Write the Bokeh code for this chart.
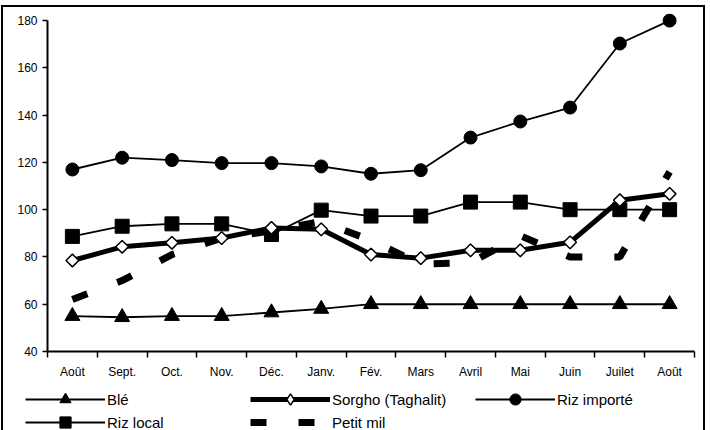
from bokeh.plotting import figure
from bokeh.layouts import column
from bokeh.models import Legend, LegendItem, FixedTicker, Range1d
from bokeh.embed import file_html
from bokeh.resources import INLINE
import math

months = ["Août", "Sept.", "Oct.", "Nov.", "Déc.", "Janv.", "Fév.", "Mars",
          "Avril", "Mai", "Juin", "Juilet", "Août"]
x = list(range(1, len(months) + 1))

ble = [55, 54.5, 55, 55, 56.5, 58, 60, 60, 60, 60, 60, 60, 60]
sorgho = [78.5, 84.3, 86, 88, 92.3, 91.7, 81, 79.5, 82.8, 82.8, 86.2, 104, 106.7]
riz_importe = [117, 122, 121, 119.7, 119.7, 118.3, 115.2, 116.7, 130.5, 137.3, 143.2, 170.3, 180]
riz_local = [88.7, 93, 94, 94, 89.5, 99.8, 97.3, 97.3, 103.2, 103.2, 100, 100, 100]
petit_mil = [62, 70, 81, 88, 91, 95, 87, 77, 77.5, 89, 80, 80, 116]

y_ticks = [40, 60, 80, 100, 120, 140, 160, 180]

FONT = "Liberation Sans"

p = figure(frame_width=647, frame_height=338, x_range=Range1d(0.5, 13.5), y_range=Range1d(40, 183),
           output_backend="svg", toolbar_location=None,
           min_border_left=44, min_border_right=9, min_border_top=6, min_border_bottom=0)
p.frame_align = False
p.xgrid.visible = False
p.ygrid.visible = False
p.outline_line_color = None
p.background_fill_color = "white"
p.border_fill_color = "white"

# x axis
p.xaxis.ticker = FixedTicker(ticks=x, minor_ticks=[i + 0.5 for i in range(0, len(months) + 1)])
p.xaxis.major_label_overrides = {i: m for i, m in zip(x, months)}
p.xaxis.major_tick_out = 0
p.xaxis.major_tick_in = 0
p.xaxis.minor_tick_out = 6
p.xaxis.minor_tick_in = 0
p.xaxis.minor_tick_line_color = "black"
p.xaxis.minor_tick_line_width = 1.5
p.xaxis.major_label_standoff = 7
# y axis
p.yaxis.ticker = FixedTicker(ticks=y_ticks)
p.yaxis.bounds = (40, 180)
p.yaxis.minor_tick_line_color = None
p.yaxis.major_tick_out = 5
p.yaxis.major_tick_in = 0
p.yaxis.major_tick_line_width = 1.5
p.yaxis.major_label_standoff = 5
for ax in (p.xaxis, p.yaxis):
    ax.axis_line_color = "black"
    ax.axis_line_width = 2
    ax.major_tick_line_color = "black"
    ax.major_label_text_font = FONT
    ax.major_label_text_font_size = "12px"
    ax.major_label_text_color = "black"

# series styles
STY = {
    "ble": dict(line=dict(line_color="black", line_width=1.8),
                mark=dict(marker="triangle", size=15, fill_color="black", line_color="black")),
    "riz_i": dict(line=dict(line_color="black", line_width=1.8),
                  mark=dict(marker="circle", size=13, fill_color="black", line_color="black")),
    "riz_l": dict(line=dict(line_color="black", line_width=1.8),
                  mark=dict(marker="square", size=14, fill_color="black", line_color="black")),
    "mil": dict(line=dict(line_color="black", line_width=7, line_dash="16 32", line_cap="butt")),
    "sorgho": dict(line=dict(line_color="black", line_width=5),
                   mark=dict(marker="square", angle=math.pi / 4, size=9,
                             fill_color="white", line_color="black", line_width=1.5)),
}
DATA = {"ble": ble, "riz_i": riz_importe, "riz_l": riz_local, "mil": petit_mil, "sorgho": sorgho}

p.line(x, ble, **STY["ble"]["line"])
p.scatter(x, ble, **STY["ble"]["mark"])
p.line(x, riz_importe, **STY["riz_i"]["line"])
p.scatter(x, riz_importe, **STY["riz_i"]["mark"])
p.line(x, riz_local, **STY["riz_l"]["line"])
p.scatter(x, riz_local, **STY["riz_l"]["mark"])
p.line(x, petit_mil, **STY["mil"]["line"])
p.line(x, sorgho, **STY["sorgho"]["line"])
p.scatter(x, sorgho, **STY["sorgho"]["mark"])

# legend figure: proxy renderers with the same styles, their data lie outside this figure's ranges
q = figure(width=700, height=58, output_backend="svg", toolbar_location=None,
           min_border=0, x_range=Range1d(-20, -19), y_range=Range1d(-20, -19))
q.frame_align = False
q.xaxis.visible = False
q.yaxis.visible = False
q.xgrid.visible = False
q.ygrid.visible = False
q.outline_line_color = None
q.background_fill_color = "white"
q.border_fill_color = "white"


def proxy(key):
    rs = [q.line(x, DATA[key], **STY[key]["line"])]
    if "mark" in STY[key]:
        m = dict(STY[key]["mark"])
        if key == "sorgho":
            m = dict(marker="diamond", size=9, fill_color="white", line_color="black", line_width=1.5)
        rs.append(q.scatter(x, DATA[key], **m))
    return rs


def make_legend(items, loc):
    lg = Legend(items=items, orientation="horizontal", location=loc)
    lg.glyph_width = 80
    lg.glyph_height = 28
    lg.label_width = 143
    lg.label_height = 22
    lg.label_standoff = 2
    lg.spacing = 0
    lg.padding = 0
    lg.margin = 0
    lg.border_line_color = None
    lg.background_fill_alpha = 0
    lg.label_text_font = FONT
    lg.label_text_font_size = "15px"
    lg.label_text_color = "black"
    return lg


legend1 = make_legend([
    LegendItem(label="Blé", renderers=proxy("ble")),
    LegendItem(label="Sorgho (Taghalit)", renderers=proxy("sorgho")),
    LegendItem(label="Riz importé", renderers=proxy("riz_i")),
], (22, 26))
legend2 = make_legend([
    LegendItem(label="Riz local", renderers=proxy("riz_l")),
    LegendItem(label="Petit mil", renderers=proxy("mil")),
], (22, 3))
q.add_layout(legend1, "center")
q.add_layout(legend2, "center")

layout = column(p, q, spacing=0)
layout.margin = (5, 0, -20, 1)
layout.styles = {"border": "2px solid black", "background-color": "white"}

open("out.html", "w").write(file_html(layout, INLINE))
